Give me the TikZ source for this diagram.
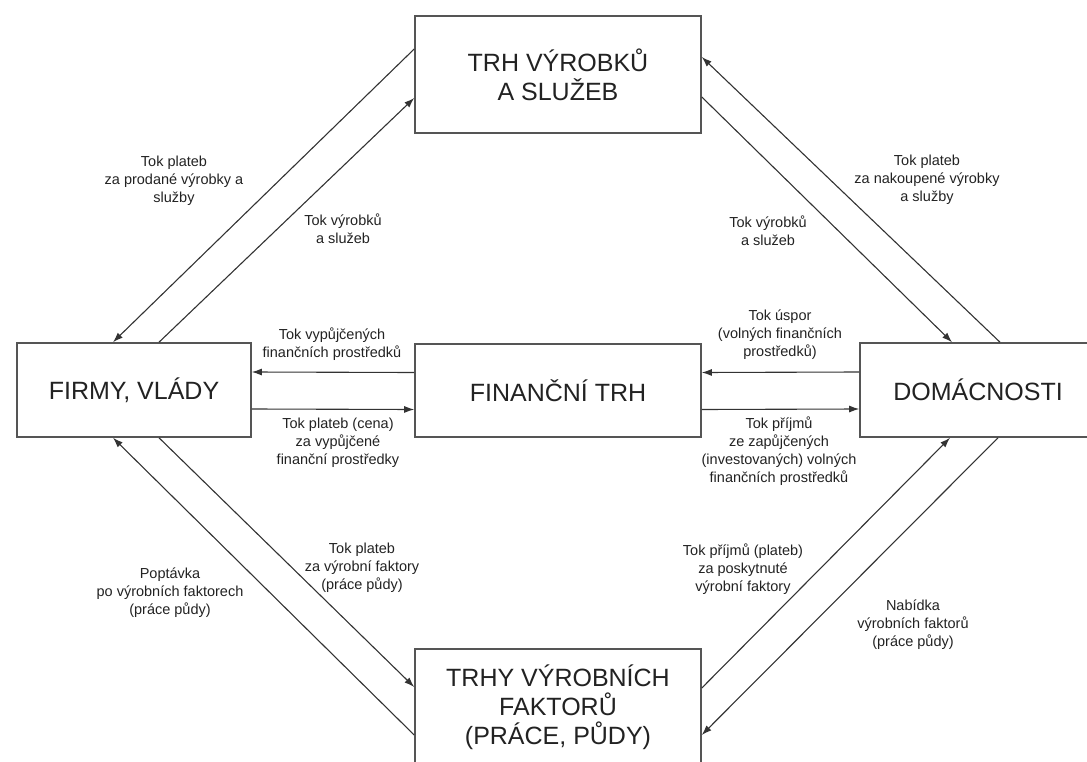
\documentclass[tikz,border=0pt]{standalone}
\usepackage{fontspec}
\setmainfont{Liberation Sans}
\usetikzlibrary{arrows.meta}
\definecolor{linie}{HTML}{333333}
\definecolor{rahmen}{HTML}{555555}
\definecolor{popis}{HTML}{222222}

\begin{document}
\begin{tikzpicture}[x=1pt,y=-1pt,
    blok/.style={draw=rahmen, line width=1.6pt, fill=white, inner sep=0pt, align=center,
      text=popis, font=\fontsize{25}{29}\selectfont},
    tok/.style={draw=linie, line width=1.1pt, -{Latex[length=10pt,width=7pt]}},
    popisek/.style={align=center, text=popis, font=\fontsize{14.5}{18}\selectfont}]
    \useasboundingbox (0,0) rectangle (1087,762);
    \clip (0,0) rectangle (1087,762);  %Rand
    % Bloky
    \node[blok, minimum width=286pt, minimum height=117pt] (trh) at (558,74.5) {TRH VÝROBKŮ\\A SLUŽEB};
    \node[blok, minimum width=234pt, minimum height=94pt] (firmy) at (134,390) {FIRMY, VLÁDY};
    \node[blok, minimum width=286pt, minimum height=93pt] (fin) at (558,390.5) {FINANČNÍ TRH};
    \node[blok, minimum width=236pt, minimum height=94pt] (dom) at (978,390) {DOMÁCNOSTI};
    \node[blok, minimum width=286pt, minimum height=116pt] (fak) at (558,707) {TRHY VÝROBNÍCH\\FAKTORŮ\\(PRÁCE, PŮDY)};
    % Toky nahore
    \draw[tok] ([yshift=25.5pt]trh.west) -- ([xshift=-21pt]firmy.north);
    \draw[tok] ([xshift=25pt]firmy.north) -- ([yshift=-23.5pt]trh.west);
    \draw[tok] ([xshift=22pt]dom.north) -- ([yshift=17.5pt]trh.east);
    \draw[tok] ([yshift=-22.5pt]trh.east) -- ([xshift=-26pt]dom.north);
    % Toky financni trh
    \draw[tok] ([yshift=18pt]fin.west) -- ([yshift=18pt]firmy.east);
    \draw[tok] ([yshift=-19pt]firmy.east) -- ([yshift=-19pt]fin.west);
    \draw[tok] ([yshift=18pt]dom.west) -- ([yshift=18pt]fin.east);
    \draw[tok] ([yshift=-19pt]fin.east) -- ([yshift=-19pt]dom.west);
    % Toky dole
    \draw[tok] ([yshift=-28pt]fak.west) -- ([xshift=-21pt]firmy.south);
    \draw[tok] ([xshift=25pt]firmy.south) -- ([yshift=20pt]fak.west);
    \draw[tok] ([yshift=19pt]fak.east) -- ([xshift=-28pt]dom.south);
    \draw[tok] ([xshift=20pt]dom.south) -- ([yshift=-28pt]fak.east);
    % Popisky
    \node[popisek] (p1) at (174,181) {Tok plateb\\za prodané výrobky a\\služby};
    \node[popisek] (p2) at (343,228.5) {Tok výrobků\\a služeb};
    \node[popisek] (p3) at (927,180) {Tok plateb\\za nakoupené výrobky\\a služby};
    \node[popisek] (p4) at (768,231) {Tok výrobků\\a služeb};
    \node[popisek] (p5) at (332,344.5) {Tok vypůjčených\\finančních prostředků};
    \node[popisek] (p6) at (338,443) {Tok plateb (cena)\\za vypůjčené\\finanční prostředky};
    \node[popisek] (p7) at (780,335) {Tok úspor\\(volných finančních\\prostředků)};
    \node[popisek] (p8) at (779,451.5) {Tok příjmů\\ze zapůjčených\\(investovaných) volných\\finančních prostředků};
    \node[popisek] (p9) at (170,593) {Poptávka\\po výrobních faktorech\\(práce půdy)};
    \node[popisek] (p10) at (362,568) {Tok plateb\\za výrobní faktory\\(práce půdy)};
    \node[popisek] (p11) at (743,569) {Tok příjmů (plateb)\\za poskytnuté\\výrobní faktory};
    \node[popisek] (p12) at (913,625) {Nabídka\\výrobních faktorů\\(práce půdy)};
\end{tikzpicture}
\end{document}
